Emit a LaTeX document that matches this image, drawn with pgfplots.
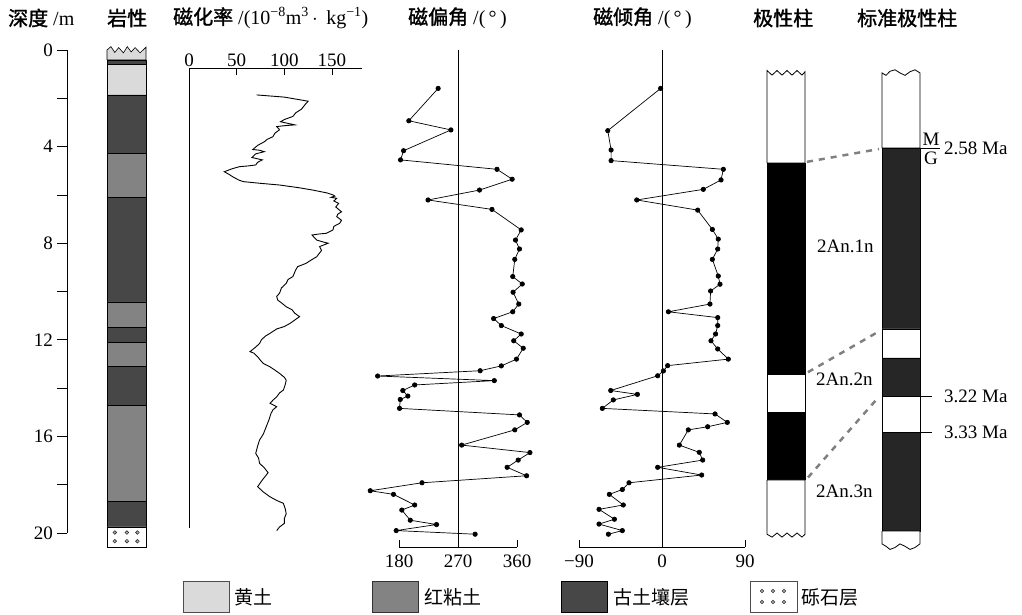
\documentclass[border=0pt]{standalone}
\usepackage{fontspec}
\setmainfont{Liberation Serif}
\newfontfamily\cjk{Noto Sans CJK SC}
\newfontfamily\cjkb{Noto Sans CJK SC}[FakeBold=1.5]
\usepackage{pgfplots}
\pgfplotsset{compat=1.18}
\definecolor{loess}{HTML}{DADADA}
\definecolor{redclay}{HTML}{838383}
\definecolor{paleo}{HTML}{474747}
\definecolor{stdblack}{HTML}{262626}
\pgfplotsset{panel/.style={scale only axis, y dir=reverse, clip=false,
  /pgf/number format/assume math mode=true,
  ticklabel style={font=\fontsize{19}{20}\selectfont},
  tick style={black, line width=0.8pt},
  axis line style={line width=0.8pt}}}
\begin{document}
\begin{tikzpicture}
\useasboundingbox (0,0) rectangle (1022pt,614pt);
% depth axis
\begin{axis}[panel, at={(67pt,564pt)}, anchor=north west, width=1pt, height=483pt,
  xmin=0, xmax=1, ymin=0, ymax=20, axis x line=none, axis y line*=left,
  ytick={0,4,...,20}, minor ytick={2,6,...,18}, tick align=outside,
  major tick length=10pt, minor tick length=10pt,
  yticklabel style={inner sep=1pt, xshift=-3pt}]
\addplot[draw=none] coordinates {(0,0)};
\end{axis}
% lithology
\begin{axis}[panel, at={(107pt,564pt)}, anchor=north west, width=39pt, height=483pt,
  xmin=0, xmax=1, ymin=0, ymax=20, hide axis]
\addplot[fill=loess, draw=black, line width=0.6pt] coordinates {(0,0.41) (0,0.0) (0.1,-0.14) (0.2,0.1) (0.3,-0.1) (0.42,0.12) (0.52,-0.14) (0.62,0.08) (0.72,-0.1) (0.85,0.12) (1,-0.12) (1,0.41) (0,0.41)};
\addplot[fill=paleo, draw=black, line width=0.6pt] coordinates {(0,0.41) (1,0.41) (1,0.58) (0,0.58) (0,0.41)};
\addplot[fill=loess, draw=black, line width=0.6pt] coordinates {(0,0.58) (1,0.58) (1,1.86) (0,1.86) (0,0.58)};
\addplot[fill=paleo, draw=black, line width=0.6pt] coordinates {(0,1.86) (1,1.86) (1,4.27) (0,4.27) (0,1.86)};
\addplot[fill=redclay, draw=black, line width=0.6pt] coordinates {(0,4.27) (1,4.27) (1,6.1) (0,6.1) (0,4.27)};
\addplot[fill=paleo, draw=black, line width=0.6pt] coordinates {(0,6.1) (1,6.1) (1,10.43) (0,10.43) (0,6.1)};
\addplot[fill=redclay, draw=black, line width=0.6pt] coordinates {(0,10.43) (1,10.43) (1,11.47) (0,11.47) (0,10.43)};
\addplot[fill=paleo, draw=black, line width=0.6pt] coordinates {(0,11.47) (1,11.47) (1,12.1) (0,12.1) (0,11.47)};
\addplot[fill=redclay, draw=black, line width=0.6pt] coordinates {(0,12.1) (1,12.1) (1,13.1) (0,13.1) (0,12.1)};
\addplot[fill=paleo, draw=black, line width=0.6pt] coordinates {(0,13.1) (1,13.1) (1,14.7) (0,14.7) (0,13.1)};
\addplot[fill=redclay, draw=black, line width=0.6pt] coordinates {(0,14.7) (1,14.7) (1,18.7) (0,18.7) (0,14.7)};
\addplot[fill=paleo, draw=black, line width=0.6pt] coordinates {(0,18.7) (1,18.7) (1,19.75) (0,19.75) (0,18.7)};
\addplot[fill=white, draw=black, line width=0.6pt] coordinates {(0,19.75) (1,19.75) (1,20.6) (0,20.6) (0,19.75)};
\addplot[only marks, mark=*, mark size=1.8pt, mark options={draw=black!80, fill=gray!60, line width=0.6pt}] coordinates {(0.2,19.98) (0.51,19.98) (0.78,19.98) (0.2,20.34) (0.51,20.34) (0.78,20.34)};
\end{axis}
% susceptibility
\begin{axis}[panel, at={(189pt,546pt)}, anchor=north west, width=173pt, height=460.2pt,
  xmin=0, xmax=181.5, ymin=0.745, ymax=19.8, axis x line*=top, axis y line*=left,
  xtick={0,50,100,150}, ytick=\empty, tick align=inside, major tick length=7pt,
  xticklabel style={inner sep=1pt}]
\addplot[black, line width=0.9pt] table {
71 1.86
100 1.95
125 2.12
122 2.25
118 2.45
112 2.6
109 2.75
100 2.88
96 2.97
111 3.10
101 3.13
92 3.17
95 3.3
90 3.45
88 3.59
82 3.7
79 3.8
72 3.95
67 4.12
74 4.15
79 4.21
70 4.3
66 4.45
77 4.55
72 4.65
70 4.76
62 4.8
53 4.83
45 4.92
37 5.04
42 5.15
46 5.25
52 5.38
57 5.45
75 5.52
95 5.59
115 5.7
130 5.8
145 5.92
151 6.0
153 6.05
149 6.1
155 6.14
152 6.25
157 6.35
154 6.5
160 6.7
156 6.8
155 6.9
160 7.05
158 7.18
152 7.3
151 7.45
144 7.59
136 7.62
129 7.66
134 7.87
141 7.95
146 8.0
137 8.14
139 8.3
134 8.56
128 8.7
123 8.83
114 8.97
112 9.1
109 9.38
104 9.5
102 9.66
97 9.85
95 10.07
92 10.2
93 10.35
98 10.5
102 10.63
108 10.75
111 10.9
116 11.04
112 11.15
106 11.32
100 11.45
92 11.55
85 11.73
80 11.85
76 12.0
74 12.15
70 12.3
64 12.49
68 12.55
72 12.7
75 12.85
78 12.98
85 13.12
90 13.25
95 13.39
100 13.55
102 13.67
101 13.85
99 14.08
95 14.2
92 14.36
88 14.5
85 14.63
92 14.77
88 14.9
86 15.05
84 15.3
81 15.6
78 15.9
74 16.15
72 16.4
70 16.7
73 16.9
74 17.11
79 17.3
83 17.5
77 17.8
72 18.08
78 18.3
85 18.5
92 18.65
99 18.77
101 19.0
102 19.2
100 19.4
100 19.6
95 19.75
92 19.9
};
\end{axis}
% declination
\begin{axis}[panel, at={(399pt,564pt)}, anchor=north west, width=118pt, height=497pt,
  xmin=180, xmax=360, ymin=0, ymax=20.58, axis x line*=bottom, axis y line=none,
  xtick={180,270,360}, tick align=inside, major tick length=7pt,
  xticklabel style={inner sep=1pt, yshift=-7pt}]
\addplot[black, line width=0.8pt] coordinates {(270,0) (270,20.58)};
\addplot[black, line width=0.8pt] coordinates {(180,20.58) (360,20.58)};
\addplot[black, line width=0.7pt, mark=*, mark size=2.2pt] table {
239.7 1.59
195 2.93
259.2 3.31
187 4.17
182.3 4.55
329.5 4.94
352.6 5.35
302.8 5.8
224.3 6.21
321.8 6.6
366.4 7.45
357.7 7.87
363.8 8.24
356.6 8.67
353.5 9.38
368 9.69
354 10.03
362.7 10.52
353.5 10.84
324.3 11.12
336.1 11.41
366.4 11.76
355 12.04
369.5 12.35
359.2 12.8
336.1 13.08
303.8 13.28
147.4 13.5
325.4 13.69
203.9 13.87
185.8 14.1
193.5 14.33
181.9 14.47
180.8 14.84
363.8 15.11
375.6 15.42
356.6 15.73
275.6 16.36
379.7 16.67
361.8 16.98
344.9 17.28
374.6 17.63
215.1 17.92
136.2 18.25
171.6 18.4
203.9 18.84
184.3 19.05
197.2 19.47
237.2 19.65
175.7 19.9
296.1 20.05
};
\end{axis}
% inclination
\begin{axis}[panel, at={(579pt,564pt)}, anchor=north west, width=166pt, height=497pt,
  xmin=-90, xmax=90, ymin=0, ymax=20.58, axis x line*=bottom, axis y line=none,
  xtick={-90,0,90}, xticklabels={−90,0,90}, tick align=inside, major tick length=7pt,
  xticklabel style={inner sep=1pt, yshift=-7pt}]
\addplot[black, line width=0.8pt] coordinates {(0,0) (0,20.58)};
\addplot[black, line width=0.8pt] coordinates {(-90,20.58) (90,20.58)};
\addplot[black, line width=0.7pt, mark=*, mark size=2.2pt] table {
-1.5 1.59
-58.8 3.34
-55.2 4.14
-55.2 4.58
66.5 4.94
64 5.38
44.8 5.77
-27.4 6.21
38.7 6.63
54.6 7.43
61 7.83
60.4 8.24
54.6 8.67
61 9.36
62.9 9.70
52.7 9.98
52 10.52
6.9 10.84
60.4 11.08
60.4 11.41
58.1 11.76
53.1 12.04
60.4 12.38
71.9 12.80
6.1 13.07
1.5 13.29
-4.7 13.49
-55.6 14.10
-26.7 14.26
-52.8 14.49
-64.7 14.84
57.5 15.07
70.8 15.42
49.5 15.60
28.5 15.73
18.8 16.36
40.4 16.66
44.1 16.98
-4.7 17.28
43 17.60
-35.8 17.92
-43 18.20
-57.1 18.40
-42 18.84
-68.3 19.02
-51.6 19.43
-68.3 19.63
-43 19.90
-58.1 20.05
};
\end{axis}
% polarity columns
\begin{axis}[panel, at={(740pt,564pt)}, anchor=north west, width=282pt, height=483pt,
  xmin=740, xmax=1022, ymin=0, ymax=20, hide axis]
% measured column
\addplot[fill=white, draw=black, line width=0.8pt] coordinates {(767,4.68) (767,0.85) (772,1.04) (777,0.85) (782,1.04) (787,0.85) (792,1.04) (797,0.85) (802,1.04) (805,0.9) (805,4.68) (767,4.68)};
\addplot[fill=black, draw=black, line width=0.8pt] coordinates {(767,4.68) (805,4.68) (805,13.42) (767,13.42) (767,4.68)};
\addplot[fill=white, draw=black, line width=0.8pt] coordinates {(767,13.42) (805,13.42) (805,14.99) (767,14.99) (767,13.42)};
\addplot[fill=black, draw=black, line width=0.8pt] coordinates {(767,14.99) (805,14.99) (805,17.8) (767,17.8) (767,14.99)};
\addplot[fill=white, draw=black, line width=0.8pt] coordinates {(767,17.8) (805,17.8) (805,20.05) (802,20.17) (797,20.0) (792,20.17) (787,20.0) (782,20.17) (777,20.0) (772,20.17) (767,20.05) (767,17.8)};
% standard column
\addplot[fill=white, draw=black, line width=0.8pt] coordinates {(882,4.06) (882,0.95) (886,1.05) (890,0.88) (895,0.82) (900,0.95) (905,1.05) (910,0.9) (915,0.82) (920,0.95) (920,4.06) (882,4.06)};
\addplot[fill=stdblack, draw=black, line width=0.8pt] coordinates {(882,4.06) (920,4.06) (920,11.55) (882,11.55) (882,4.06)};
\addplot[fill=white, draw=black, line width=0.8pt] coordinates {(882,11.55) (920,11.55) (920,12.75) (882,12.75) (882,11.55)};
\addplot[fill=stdblack, draw=black, line width=0.8pt] coordinates {(882,12.75) (920,12.75) (920,14.33) (882,14.33) (882,12.75)};
\addplot[fill=white, draw=black, line width=0.8pt] coordinates {(882,14.33) (920,14.33) (920,15.82) (882,15.82) (882,14.33)};
\addplot[fill=stdblack, draw=black, line width=0.8pt] coordinates {(882,15.82) (920,15.82) (920,19.92) (882,19.92) (882,15.82)};
\addplot[fill=white, draw=black, line width=0.8pt] coordinates {(882,19.92) (920,19.92) (920,20.45) (915,20.6) (910,20.68) (905,20.55) (900,20.45) (895,20.6) (890,20.68) (886,20.55) (882,20.45) (882,19.92)};
% correlation lines
\addplot[gray, line width=2.5pt, dash pattern=on 6pt off 6pt] coordinates {(807,4.63) (879,4.1)};
\addplot[gray, line width=2.5pt, dash pattern=on 6pt off 6pt] coordinates {(808,13.34) (879,11.65)};
\addplot[gray, line width=2.5pt, dash pattern=on 6pt off 6pt] coordinates {(808,17.7) (878,14.4)};
% age ticks
\addplot[black, line width=0.8pt] coordinates {(920,4.06) (940,4.06)};
\addplot[black, line width=0.8pt] coordinates {(920,14.33) (932,14.33)};
\addplot[black, line width=0.8pt] coordinates {(920,15.82) (932,15.82)};
\node[font=\fontsize{19}{20}\selectfont, inner sep=0pt] at (axis cs:931,3.68) {M};
\node[font=\fontsize{19}{20}\selectfont, inner sep=0pt] at (axis cs:931,4.48) {G};
\node[font=\fontsize{19}{20}\selectfont, anchor=west, inner sep=0pt] at (axis cs:944,4.06) {2.58 Ma};
\node[font=\fontsize{19}{20}\selectfont, anchor=west, inner sep=0pt] at (axis cs:944,14.35) {3.22 Ma};
\node[font=\fontsize{19}{20}\selectfont, anchor=west, inner sep=0pt] at (axis cs:944,15.85) {3.33 Ma};
\node[font=\fontsize{19}{20}\selectfont, anchor=west, inner sep=0pt] at (axis cs:817,8.12) {2An.1n};
\node[font=\fontsize{19}{20}\selectfont, anchor=west, inner sep=0pt] at (axis cs:816,13.62) {2An.2n};
\node[font=\fontsize{19}{20}\selectfont, anchor=west, inner sep=0pt] at (axis cs:816,18.26) {2An.3n};
\end{axis}
% headers
\begin{scope}[every node/.style={anchor=west, inner sep=0pt, font=\fontsize{20}{22}\selectfont}]
\node at (8pt,596pt) {{\cjkb 深度} /m};
\node at (107pt,596pt) {\cjkb 岩性};
\node at (173pt,596pt) {{\cjkb 磁化率} /(10\textsuperscript{−8}m\textsuperscript{3}\,$\cdot$\, kg\textsuperscript{−1})};
\node at (408pt,596pt) {{\cjkb 磁偏角} /(\,°\,)};
\node at (593pt,596pt) {{\cjkb 磁倾角} /(\,°\,)};
\node at (753pt,596pt) {\cjkb 极性柱};
\node at (857pt,596pt) {\cjkb 标准极性柱};
\end{scope}
% legend
\begin{scope}[every node/.style={anchor=west, inner sep=0pt, font=\fontsize{19}{20}\cjk}]
\draw[fill=loess, draw=gray!60!black, line width=0.8pt] (183pt,2pt) rectangle (229pt,33pt);
\node at (234pt,17pt) {黄土};
\draw[fill=redclay, draw=gray!40!black, line width=0.8pt] (372pt,2pt) rectangle (418pt,33pt);
\node at (424pt,17pt) {红粘土};
\draw[fill=paleo, draw=black, line width=0.8pt] (561pt,2pt) rectangle (607pt,33pt);
\node at (613pt,17pt) {古土壤层};
\draw[fill=white, draw=gray!60!black, line width=0.8pt] (750pt,2pt) rectangle (797pt,33pt);
\foreach \xx in {762,773,784} \foreach \yy in {12,23} \filldraw[fill=gray!60, draw=black!80, line width=0.5pt] (\xx pt,\yy pt) circle (1.8pt);
\node at (801pt,17pt) {砾石层};
\end{scope}
\end{tikzpicture}
\end{document}
